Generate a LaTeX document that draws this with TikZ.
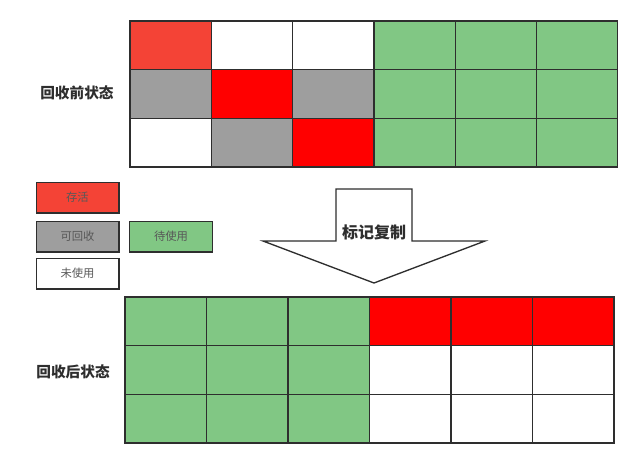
\documentclass[tikz,border=0pt]{standalone}
\usepackage{fontspec}
\setmainfont{Noto Sans CJK SC}
\usepackage{tikz}

\definecolor{alivelt}{HTML}{F44336}
\definecolor{alive}{HTML}{FF0000}
\definecolor{dead}{HTML}{9E9E9E}
\definecolor{free}{HTML}{81C784}
\definecolor{edge}{HTML}{2E2E2E}

\begin{document}
\begin{tikzpicture}[x=0.75pt,y=-0.75pt]
    \tikzstyle{every node}=[font=\small]
    \tikzstyle{cell}=[draw=edge,line width=1pt,minimum width=61pt,minimum height=36.5pt,inner sep=0pt]
    \tikzstyle{legend}=[draw=edge,line width=1pt,minimum width=62pt,minimum height=23pt,inner sep=0pt,font=\fontsize{8.5}{10}\selectfont,text=edge!80]
    \tikzstyle{title}=[font=\fontsize{11}{13}\selectfont\bfseries,text=edge]
    \useasboundingbox (0,0) rectangle (640,465);

    \foreach \f [count=\c] in {alivelt,white,white,free,free,free}
        \node[cell,fill=\f] (pre1\c) at ({130+81.3*(\c-0.5)},45.3) {};
    \foreach \f [count=\c] in {dead,alive,dead,free,free,free}
        \node[cell,fill=\f] (pre2\c) at ({130+81.3*(\c-0.5)},94) {};
    \foreach \f [count=\c] in {white,dead,alive,free,free,free}
        \node[cell,fill=\f] (pre3\c) at ({130+81.3*(\c-0.5)},142.7) {};

    \foreach \f [count=\c] in {free,free,free,alive,alive,alive}
        \node[cell,fill=\f] (post1\c) at ({125+81.5*(\c-0.5)},321.3) {};
    \foreach \f [count=\c] in {free,free,free,white,white,white}
        \node[cell,fill=\f] (post2\c) at ({125+81.5*(\c-0.5)},370) {};
    \foreach \f [count=\c] in {free,free,free,white,white,white}
        \node[cell,fill=\f] (post3\c) at ({125+81.5*(\c-0.5)},418.7) {};

    \node[title] (before) at (77,93) {回收前状态};
    \node[title] (after) at (73,372) {回收后状态};

    \node[legend,fill=alivelt] (live) at (77.5,197.5) {存活};
    \node[legend,fill=dead] (garbage) at (77.5,236.5) {可回收};
    \node[legend,fill=free] (spare) at (171,236.5) {待使用};
    \node[legend,fill=white] (unused) at (77.5,273.5) {未使用};

    \draw[edge,line width=1pt,fill=white] (336,189) -- (412,189) -- (412,241)
        -- (485,241) -- (374,283) -- (263,241) -- (336,241) -- cycle;
    \node[title,font=\fontsize{12}{14}\selectfont\bfseries] (copy) at (374,232) {标记复制};

\end{tikzpicture}
\end{document}
